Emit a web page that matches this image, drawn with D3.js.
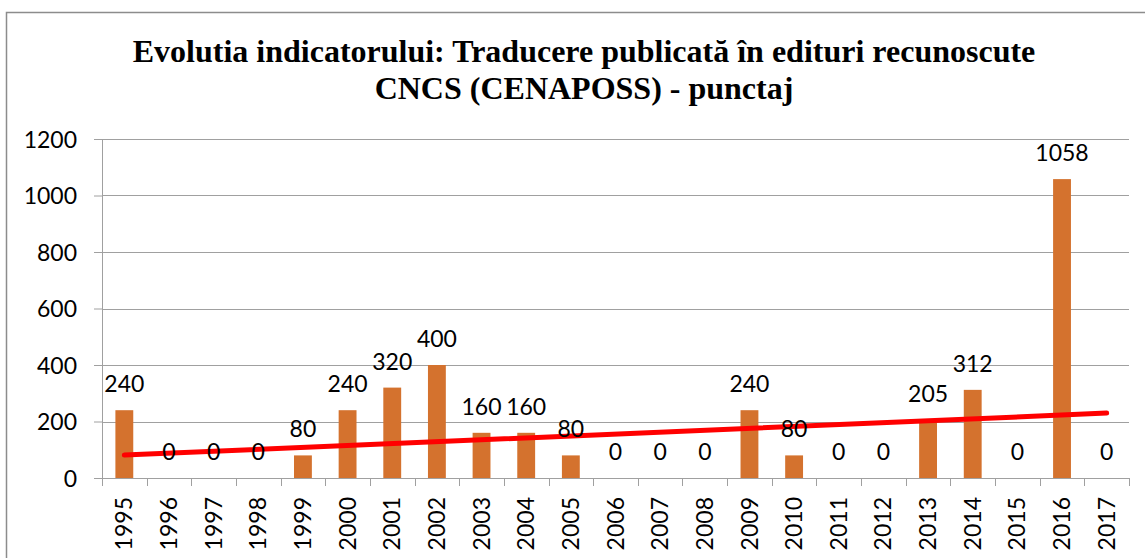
<!DOCTYPE html>
<html>
<head>
<meta charset="utf-8">
<script src="https://cdn.jsdelivr.net/npm/d3@7/dist/d3.min.js"></script>
<style>
	body { margin: 0; background: #fff; }
	svg { display: block; }
	.axis path, .axis line { stroke: #a0a0a0; }
	.axis text { font-family: Lato, 'Open Sans', sans-serif; font-size: 23px; fill: #000; }
</style>
</head>
<body>
<div id="chart"></div>
<script>
const years = ['1995', '1996', '1997', '1998', '1999', '2000', '2001', '2002', '2003', '2004', '2005', '2006',
	'2007', '2008', '2009', '2010', '2011', '2012', '2013', '2014', '2015', '2016', '2017'];
const scores = [240, 0, 0, 0, 80, 240, 320, 400, 160, 160, 80, 0, 0, 0, 240, 80, 0, 0, 205, 312, 0, 1058, 0];
const yTicks = [0, 200, 400, 600, 800, 1000, 1200];
const titleLines = ['Evolutia indicatorului: Traducere publicată în edituri recunoscute', 'CNCS (CENAPOSS) - punctaj'];

const width = 1145, height = 558;
const margins = { top: 139, left: 102, right: 16, bottom: 80 };
const innerW = width - margins.left - margins.right;
const innerH = height - margins.top - margins.bottom;

let svg = d3.select('#chart').append('svg')
	.attr('width', width)
	.attr('height', height);

// outer frame (runs off the right and bottom edge in the original)
svg.append('rect')
	.attr('x', 6.5).attr('y', 12.5)
	.attr('width', width + 20).attr('height', height + 20)
	.attr('fill', 'none').attr('stroke', '#8c8c8c').attr('stroke-width', 1.5);

svg.append('text')
	.attr('text-anchor', 'middle')
	.style('font-family', "'Liberation Serif', 'Times New Roman', serif")
	.style('font-weight', 'bold')
	.style('font-size', '32px')
	.selectAll('tspan').data(titleLines).join('tspan')
	.attr('x', 584)
	.attr('y', (d, i) => 62 + i * 37)
	.text(d => d);

let g = svg.append('g').attr('transform', `translate(${margins.left},${margins.top})`);

let x = d3.scaleBand().domain(years).range([0, innerW]).paddingInner(0.6).paddingOuter(0.3);
let xb = d3.scaleBand().domain(years).range([0, innerW]);
let y = d3.scaleLinear().domain([0, 1200]).range([innerH, 0]);

// gridlines
g.append('g').selectAll('line').data(yTicks.slice(1)).join('line')
	.attr('x1', 0).attr('x2', innerW)
	.attr('y1', d => Math.round(y(d)) + 0.5).attr('y2', d => Math.round(y(d)) + 0.5)
	.attr('stroke', '#a0a0a0');

let yAxis = d3.axisLeft(y).tickValues(yTicks).tickFormat(d3.format('d')).tickSize(8).tickPadding(17);
g.append('g').attr('class', 'axis').call(yAxis)
	.call(a => a.selectAll('text').attr('dy', '0.35em'));

// category axis: ticks between the bands
let xAxisG = g.append('g').attr('class', 'axis').attr('transform', `translate(0,${innerH})`);
xAxisG.append('line').attr('x1', 0).attr('x2', innerW).attr('y1', 0.5).attr('y2', 0.5);
xAxisG.selectAll('.tk').data(years.concat(['end'])).join('line')
	.attr('class', 'tk')
	.attr('x1', (d, i) => Math.round(i * xb.step()) + 0.5)
	.attr('x2', (d, i) => Math.round(i * xb.step()) + 0.5)
	.attr('y1', 0).attr('y2', 8);
xAxisG.selectAll('text').data(years).join('text')
	.attr('transform', d => `translate(${xb(d) + xb.bandwidth() / 2},19) rotate(-90)`)
	.attr('text-anchor', 'end')
	.attr('dy', '0.35em')
	.text(d => d);

// bars
g.append('g').selectAll('rect').data(scores).join('rect')
	.attr('x', (d, i) => x(years[i]))
	.attr('y', d => y(d))
	.attr('width', x.bandwidth())
	.attr('height', d => innerH - y(d))
	.attr('fill', '#d4722e');

// linear trend line (least squares over the series)
let n = scores.length;
let mx = d3.mean(scores, (d, i) => i), my = d3.mean(scores);
let slope = d3.sum(scores, (d, i) => (i - mx) * (d - my)) / d3.sum(scores, (d, i) => (i - mx) * (i - mx));
let trend = [0, n - 1].map(i => [i, my + slope * (i - mx)]);
g.append('path')
	.datum(trend)
	.attr('d', d3.line().x(d => xb(years[d[0]]) + xb.bandwidth() / 2).y(d => y(d[1])))
	.attr('stroke', '#ff0000').attr('stroke-width', 5).attr('stroke-linecap', 'round').attr('fill', 'none');

// data labels
g.append('g').selectAll('text').data(scores).join('text')
	.attr('x', (d, i) => xb(years[i]) + xb.bandwidth() / 2)
	.attr('y', d => y(d) - 18)
	.attr('text-anchor', 'middle')
	.style('font-family', "Lato, 'Open Sans', sans-serif")
	.style('font-size', '23px')
	.text(d => d);
</script>
</body>
</html>
